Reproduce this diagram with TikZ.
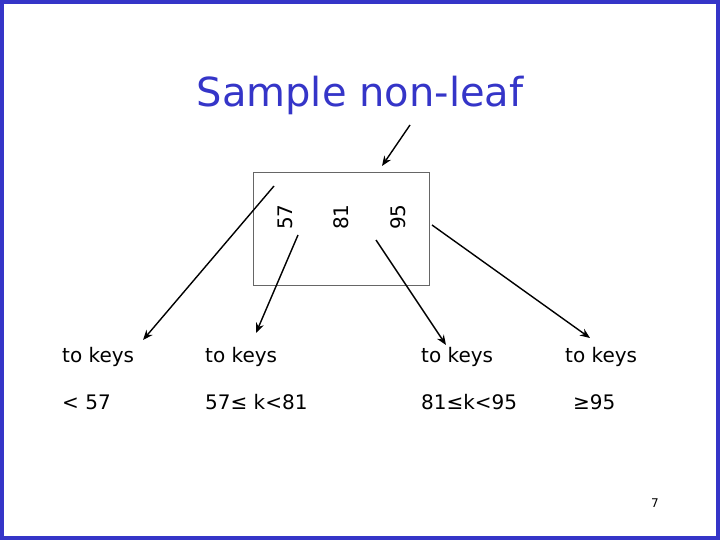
\documentclass[tikz,border=0pt]{standalone}
\usepackage{fontspec}
\setmainfont{DejaVu Sans}
\usetikzlibrary{arrows.meta}
\definecolor{tblue}{HTML}{3535C8}
\begin{document}
\begin{tikzpicture}[x=1pt,y=-1pt,
  lbl/.style={anchor=west,inner sep=0,font=\fontsize{20}{24}\selectfont},
  key/.style={rotate=90,inner sep=0,font=\fontsize{20}{24}\selectfont},
  arr/.style={-{Stealth[length=10pt,width=8pt]},line width=1.4pt}]
\useasboundingbox (0,0) rectangle (720,540);
\draw[tblue,line width=4pt] (2,2) rectangle (718,538);
\node[tblue,font=\fontsize{40}{46}\selectfont,inner sep=0] (title) at (360,95) {Sample non-leaf};
\node[draw=gray!80!black,minimum width=176pt,minimum height=113pt,inner sep=0] (box) at (341,228.5) {};
\node[key] (k57) at (285,217) {57};
\node[key] (k81) at (341,217) {81};
\node[key] (k95) at (398,217) {95};
\coordinate (top) at (410,125);
\coordinate (a1) at (274,186);
\coordinate (a2) at (298,235);
\coordinate (a3) at (376,240);
\coordinate (a4) at (432,225);
\node[lbl] (t1) at (62,357) {to keys};
\node[lbl] (t2) at (205,357) {to keys};
\node[lbl] (t3) at (421,357) {to keys};
\node[lbl] (t4) at (565,357) {to keys};
\node[lbl] (r1) at (62,402) {< 57};
\node[lbl] (r2) at (205,402) {57≤ k<81};
\node[lbl] (r3) at (421,402) {81≤k<95};
\node[lbl] (r4) at (573,402) {≥95};
\draw[arr] (top) -- (382,166);
\draw[arr] (a1) -- (143,340);
\draw[arr] (a2) -- (256,333);
\draw[arr] (a3) -- (446,345);
\draw[arr] (a4) -- (590,338);
\node[font=\fontsize{12}{14}\selectfont,inner sep=0] (pg) at (655,503) {7};
\end{tikzpicture}
\end{document}
